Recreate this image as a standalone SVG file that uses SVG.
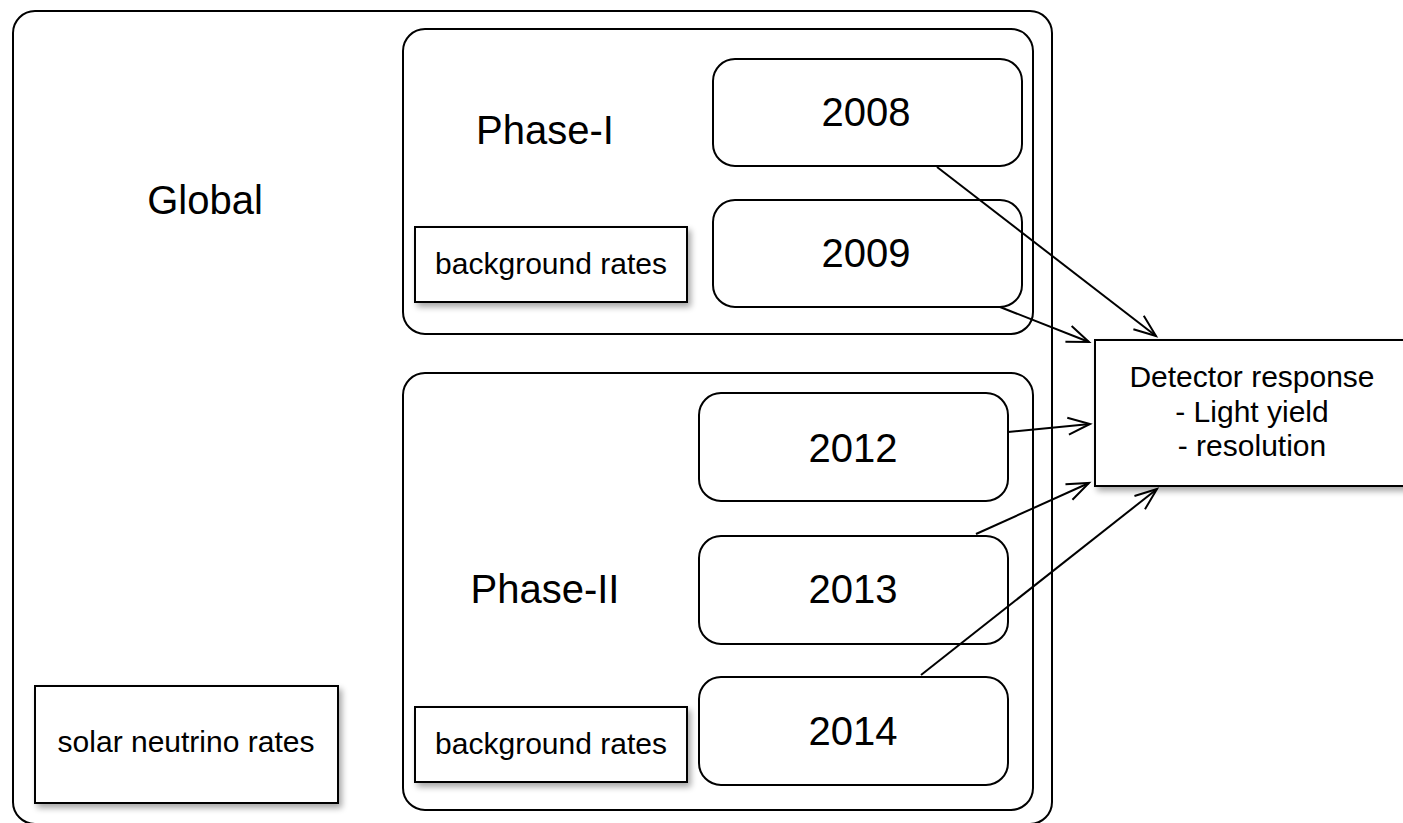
<svg xmlns="http://www.w3.org/2000/svg" width="1403" height="823" viewBox="0 0 1403 823">
<style>
text{font-family:"Liberation Sans",Arial,Helvetica,sans-serif;fill:#000;text-anchor:middle}
.box{fill:#fff;stroke:#000;stroke-width:2}
.big{font-size:40px}
.sm{font-size:30px}
.conn{stroke:#000;stroke-width:2;fill:none;marker-end:url(#arr)}
</style>
<defs>
<filter id="sh" x="-10%" y="-10%" width="130%" height="140%">
<feGaussianBlur in="SourceAlpha" stdDeviation="3"/>
<feOffset dx="3" dy="4" result="b"/>
<feComponentTransfer><feFuncA type="linear" slope="0.35"/></feComponentTransfer>
<feMerge><feMergeNode/><feMergeNode in="SourceGraphic"/></feMerge>
</filter>
<marker id="arr" markerUnits="userSpaceOnUse" markerWidth="30" markerHeight="24" refX="24" refY="12" orient="auto" overflow="visible">
<path d="M2,3.5 L24,12 L2,20.5" fill="none" stroke="#000" stroke-width="2"/>
</marker>
</defs>
<g id="global">
<rect class="box" x="13" y="11" width="1039" height="813" rx="22"/>
<text class="big" x="205" y="214">Global</text>
</g>
<g id="phase1">
<rect class="box" x="403" y="29" width="630" height="305" rx="22"/>
<text class="big" x="545" y="144">Phase-I</text>
</g>
<g id="phase2">
<rect class="box" x="403" y="373" width="630" height="437" rx="22"/>
<text class="big" x="545" y="603">Phase-II</text>
</g>
<g id="n2008">
<rect class="box" x="713" y="59" width="309" height="107" rx="22"/>
<text class="big" x="866" y="126">2008</text>
</g>
<g id="n2009">
<rect class="box" x="713" y="200" width="309" height="107" rx="22"/>
<text class="big" x="866" y="267">2009</text>
</g>
<g id="bg1">
<rect class="box" x="415" y="227" width="272" height="75" filter="url(#sh)"/>
<text class="sm" x="551" y="274">background rates</text>
</g>
<g id="n2012">
<rect class="box" x="699" y="393" width="309" height="108" rx="22"/>
<text class="big" x="853" y="462">2012</text>
</g>
<g id="n2013">
<rect class="box" x="699" y="536" width="309" height="108" rx="22"/>
<text class="big" x="853" y="603">2013</text>
</g>
<g id="n2014">
<rect class="box" x="699" y="677" width="309" height="108" rx="22"/>
<text class="big" x="853" y="745">2014</text>
</g>
<g id="bg2">
<rect class="box" x="415" y="707" width="272" height="75" filter="url(#sh)"/>
<text class="sm" x="551" y="754">background rates</text>
</g>
<g id="solar">
<rect class="box" x="35" y="686" width="303" height="117" filter="url(#sh)"/>
<text class="sm" x="186" y="752">solar neutrino rates</text>
</g>
<g id="detector">
<rect class="box" x="1095" y="340" width="318" height="146" filter="url(#sh)"/>
<text class="sm" x="1252" y="387">Detector response</text>
<text class="sm" x="1252" y="422">- Light yield</text>
<text class="sm" x="1252" y="456">- resolution</text>
</g>
<g id="connectors">
<line class="conn" x1="937" y1="167" x2="1156" y2="336"/>
<line class="conn" x1="1000" y1="307" x2="1089" y2="342"/>
<line class="conn" x1="1008" y1="432" x2="1090" y2="424"/>
<line class="conn" x1="976" y1="534" x2="1089" y2="483"/>
<line class="conn" x1="921" y1="675" x2="1157" y2="489"/>
</g>
</svg>
